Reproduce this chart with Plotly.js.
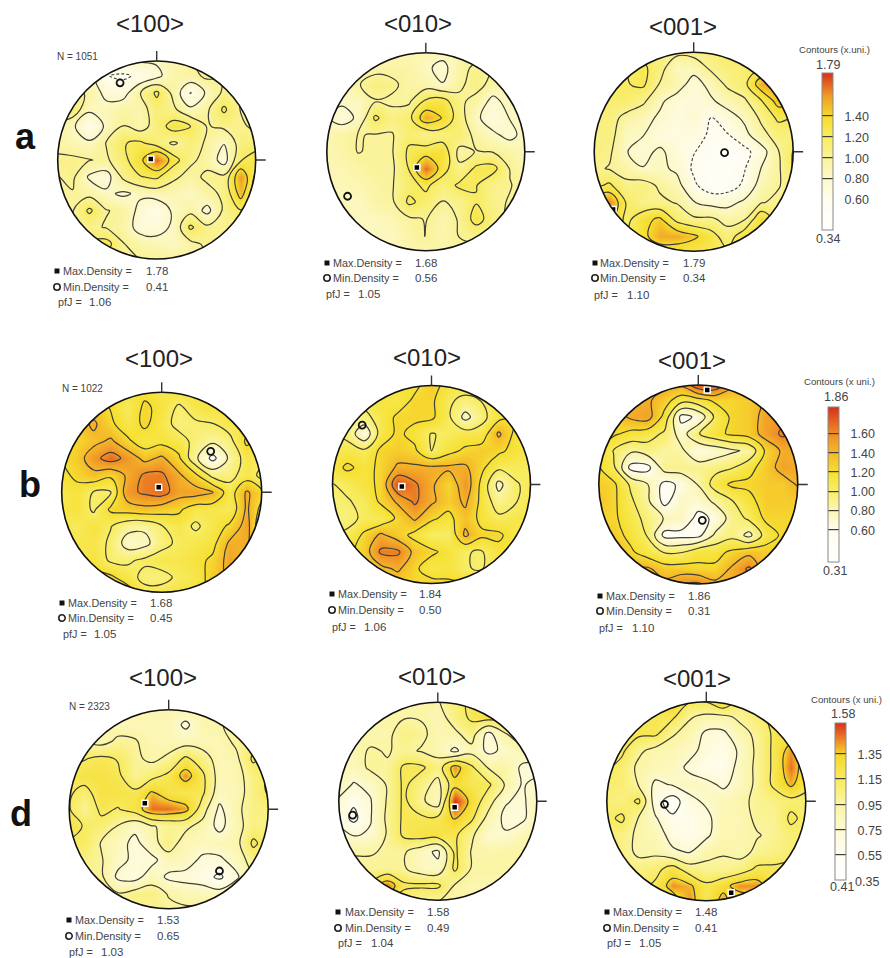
<!DOCTYPE html>
<html><head><meta charset="utf-8">
<script src="https://cdn.plot.ly/plotly-3.0.1.min.js"></script>
<style>html,body{margin:0;padding:0;background:#fff}</style></head>
<body><div id="chart" style="width:890px;height:958px"></div>
<script>
const a100=[
[.85,.85,.85,.85,.85,.85,.85,.9,1,1.1,1,1,1],
[.9,.9,.9,.62,.58,.65,.75,.95,.95,1.05,1,1,1],
[1,1.15,.95,.75,.72,1,1.25,.95,.6,.85,1.05,1,.95],
[1.05,1.15,.85,.88,.95,.92,1.12,1.05,.85,.98,1.25,1,.95],
[1,.85,.62,.85,1.02,.92,1.1,1.3,1.22,1,1.05,1.05,.95],
[.95,.9,.85,1.02,1.2,1.25,1.12,.98,1.12,.98,.82,1.1,1.15],
[1.05,1.05,1.02,.98,1.15,1.35,1.7,1.3,1.05,.95,.72,1.2,1.3],
[1,1.05,.78,.72,1.05,1.2,1.25,1.05,.95,1.05,1.05,1.6,1.1],
[.95,1,.95,.85,.78,.85,.9,.9,.85,.95,1.05,1.5,1],
[1,1,1.25,1.02,.98,.75,.65,.85,.95,.75,1.05,1.2,1],
[1,1,1.05,1,.95,.72,.72,.85,1.25,1.05,1.02,1,1],
[1.1,1.1,1.25,1.3,1.02,.95,.9,.85,.95,1.05,1,1,1],
[1.05,1.05,1.05,1.05,1.05,1.02,1,1,1,1,1,1,1]];
const a010=[
[.9,.9,.9,.9,.9,.9,.9,.9,.9,.9,.9,.9,.9],
[.9,.9,.9,.95,.95,.95,.85,.75,.95,1.05,1,.9,.9],
[.9,.85,1,1.1,1.05,.95,.92,.82,.98,1.08,.95,.9,.9],
[.85,.85,.85,1,.98,.98,1.25,1.3,1.05,.95,.75,.9,.9],
[.85,.72,.85,1.25,1.08,1.15,1.55,1.4,1.1,.85,.7,.82,.9],
[.9,.95,1.02,1,1,1.15,1.05,1.1,1.15,.95,.85,.75,.9],
[.88,.95,1.02,.98,1,1.25,1.3,1.35,.95,1.02,1,.95,.85],
[.88,.9,.95,1,.98,1.22,1.7,1.3,1.05,1.25,1.28,1,.9],
[.88,.88,.9,.95,1,1.15,1.25,1.1,1.25,1.22,1.05,1.02,.95],
[.9,.88,.85,.95,.98,1.25,1.15,1,1.05,1.2,1.05,1,.95],
[.9,.9,.85,.85,.9,.98,1.02,.92,1.03,1.3,1.1,.95,.95],
[.9,.9,.85,.85,.85,.95,1.02,.92,1.02,1.05,1.02,.95,.95],
[.9,.9,.9,.9,.9,.9,.9,.95,.95,.95,.95,.95,.95]];
const a001=[
[1.1,1.1,1.1,1.1,1.1,1.1,1.1,1.1,1.25,1.1,1.1,1.1,1.1],
[1.2,1.2,1.2,1.25,1.1,.85,.9,1.05,1.1,1.15,1.2,1.2,1.2],
[1.2,1.2,1.2,1.25,1,.92,.72,.88,1.05,1.15,1.55,1.6,1.4],
[1.15,1.15,1.15,1.05,.85,.72,.72,.78,.9,.98,1.2,1.5,1.4],
[1.1,1.1,.95,.88,.78,.7,.78,.6,.72,.85,1.05,1.25,1.2],
[1.05,1.1,.85,.82,.7,.68,.7,.58,.6,.75,.95,1.1,1.1],
[1.1,1.05,.82,.75,.85,.72,.62,.55,.4,.55,.72,1,1.25],
[1.05,1,.95,.82,.85,.78,.58,.5,.5,.6,.82,.98,1.25],
[1.15,1.25,1.05,1.1,.98,.88,.65,.5,.52,.65,.9,1,1.1],
[1.5,1.65,1.2,1.05,1.05,1,.82,.75,.75,.85,1,1.05,1.1],
[1.8,1.5,1.15,1.35,1.45,1.15,1.05,1.05,.95,1,1.4,1.1,1.1],
[1.3,1.3,1.2,1.35,1.55,1.55,1.45,1.3,1.1,1.35,1.3,1.1,1.1],
[1.25,1.25,1.25,1.25,1.25,1.25,1.25,1.25,1.25,1.25,1.25,1.25,1.25]];
const b100=[
[1.15,1.15,1.15,1.15,1.15,1.15,1.1,1.15,1.15,1.15,1.15,1.15,1.15],
[1.3,1.3,1.3,1.2,1.05,1.25,1.15,.98,1.1,1.15,1.15,1.1,1.1],
[1.3,1.3,1.45,1.25,1.1,1.25,1.1,.95,.98,1,1.1,1.1,1.1],
[1.2,1.25,1.35,1.45,1.25,1.1,1.15,1.1,.95,.85,.95,1.25,1.1],
[1.2,1.3,1.55,1.7,1.55,1.35,1.45,1.25,.85,.55,.85,1.1,1.05],
[1.15,1.25,1.35,1.25,1.45,1.65,1.65,1.45,1.25,.95,.95,1.1,.95],
[1.1,1.15,1,1,1.55,1.65,1.7,1.5,1.5,1.42,1.1,1.45,1.2],
[1.1,1.15,.98,1.25,1.3,1.35,1.3,1.25,1.1,1.1,1.05,1.45,1.1],
[1.1,1.05,1.15,1.02,.88,.85,1,1.1,.98,1.1,1.25,1.5,.95],
[1.1,1.1,1.1,.98,.72,.75,.95,1.05,1.1,1.15,1.45,1.45,1.1],
[1.1,1.1,1.15,.98,.98,1.05,1.1,1.1,1.15,1.25,1.5,1.3,1.25],
[1.25,1.25,1.25,1.25,1.1,.95,.95,1.05,1.1,1.3,1.45,1.25,1.25],
[1.25,1.25,1.25,1.25,1.35,1.1,1.1,1.15,1.15,1.25,1.25,1.25,1.25]];
const b010=[
[1.15,1.15,1.15,1.15,1.15,1.15,1.3,1.15,1.15,1.15,1.15,1.15,1.15],
[1.15,1.15,1.1,1.15,1.1,1.25,1.25,1.05,.95,1.02,1.15,1.25,1.25],
[1.1,1,.95,1.1,1.25,1.25,1.25,1.05,.75,.95,1.15,1.25,1.25],
[1.05,.95,.65,1.1,1.25,1.15,1,1.05,1.1,1.1,1.45,1.15,1.1],
[1.05,1.1,1.05,1.25,1.3,1.25,1,1.15,1.25,1.3,1.25,1.15,1.05],
[1.1,1.25,1.15,1.25,1.45,1.45,1.45,1.45,1.45,1.25,1.05,1.05,1.05],
[1,1.05,1.15,1.25,1.8,1.65,1.45,1.25,1.55,1.15,.75,1,1.05],
[.95,1,1.05,1.25,1.45,1.65,1.45,1.3,1.45,1.15,.9,1,1.1],
[.95,.95,1.05,1.05,1.25,1.45,1.25,1.15,1.35,1.15,1.05,1.1,1.1],
[1,1.05,1.25,1.45,1.3,1.15,1.02,1.02,1.45,1.25,1.25,1.1,1.1],
[1.1,1.15,1.3,1.65,1.65,1.35,1.25,1.15,1.02,1,1.15,1.15,1.1],
[1.15,1.15,1.25,1.35,1.45,1.25,1.1,1.15,1.02,1,1.15,1.15,1.15],
[1.25,1.25,1.25,1.25,1.25,1.25,1.3,1.25,1.25,1.25,1.25,1.25,1.25]];
const b001=[
[1.65,1.65,1.65,1.65,1.5,1.5,1.85,1.85,1.5,1.45,1.45,1.45,1.45],
[1.45,1.45,1.45,1.45,1.3,1.1,1.15,1.25,1.25,1.3,1.45,1.45,1.45],
[1.3,1.3,1.45,1.5,1.15,.55,.65,1.05,1.25,1.3,1.5,1.55,1.45],
[1.25,1.25,1.15,1.1,.98,.72,1,1.15,1.25,1.3,1.5,1.65,1.45],
[1.25,1,.85,.92,.85,.85,.65,.7,.78,.85,1.25,1.45,1.45],
[1.25,1.05,.55,.55,.9,.9,.9,.95,1,1.15,1.3,1.5,1.45],
[1.3,1.25,.98,.82,.55,.65,.82,1.1,1.25,1.25,1.3,1.3,1.45],
[1.35,1.25,1.05,.85,.55,.75,.7,.85,1,1.15,1.3,1.3,1.3],
[1.25,1.25,1.1,.95,.8,.75,.55,.65,.9,1.05,1.25,1.25,1.25],
[1.3,1.3,1.15,1,.55,.55,.55,.85,.95,.75,1.1,1.25,1.25],
[1.45,1.45,1.25,1.1,1,1,1.15,1.15,1.25,1.35,1.3,1.25,1.25],
[1.45,1.45,1.45,1.45,1.3,1.3,1.25,1.25,1.45,1.65,1.3,1.3,1.3],
[1.5,1.5,1.5,1.5,1.5,1.65,1.7,1.5,1.45,1.45,1.45,1.45,1.45]];
const d100=[
[.92,.92,.92,.92,.92,.92,.92,.92,.92,.92,.92,.92,.92],
[.9,.9,.9,.88,.88,.88,.88,.72,.9,.95,1,1,1],
[.95,.95,.9,1,.98,.88,.88,.88,.88,.88,1,1.05,1.05],
[1.1,1.15,1.2,1.15,1,.92,1,1.2,1.05,.88,.92,1.2,1.05],
[1.2,1.25,1.25,1.2,1,1.1,1.2,1.45,1.2,.88,.9,1.05,1.2],
[1.2,1.1,1.25,1.25,1.2,1.38,1.25,1.2,1.2,.85,.88,1.05,1.2],
[1.2,1,1.2,1.15,1.25,1.5,1.5,1.42,1.05,.72,.92,1.05,1.05],
[1.25,1.15,1.1,.95,.82,.95,1,1,.9,.7,.9,1.05,1.05],
[1.15,1.15,.95,.85,.7,.9,1.05,.88,.85,.88,.9,1.2,1.05],
[1.05,1.05,.98,.82,.72,.7,.88,.85,.72,.72,.85,1.05,1.05],
[1,1,1,.72,.68,.88,.72,.7,.65,.52,.72,1,1],
[1,1,1.05,.98,1.05,1.05,.95,.88,.88,.85,.95,1,1],
[1,1,1,1,1,1,1,1,1,1,1,1,1]];
const d010=[
[.95,.95,.95,.95,.95,.95,.95,1.1,1.2,1.2,.95,.95,.95],
[.95,.95,.95,.95,.95,.95,.88,1.05,1.2,1.25,1.2,1,.95],
[.95,.95,.9,.92,1.05,1,.9,.92,1.05,.7,.95,1.05,.95],
[.9,.9,.98,.95,1,.95,.9,.72,.9,.72,.8,.9,.85],
[.88,.85,1,.98,1.2,1.2,1.05,1.45,1.2,.95,.95,.72,.72],
[.85,.75,.8,.98,1.2,1.05,.9,1.3,1.2,1.2,.95,.75,.8],
[.75,.6,.75,.98,1.2,1,.85,1.6,1.3,1.05,.78,.72,.9],
[.72,.5,.75,1,1.2,1.2,1.2,1.38,1.2,.9,.72,.72,.9],
[.85,.75,.78,.98,1.2,1.25,1.25,1.2,1,.78,.78,.88,.95],
[.95,.95,.95,.98,.98,.85,.72,1.2,.95,.92,.95,.95,.95],
[1,1,1,1,.98,.85,.82,1.2,.95,.95,.95,.95,.95],
[1,1,1.2,1.5,1.2,1.2,1.2,.95,.9,.9,.9,.9,.9],
[1.1,1.1,1.2,1.2,1.05,.95,.95,.95,.95,.95,.95,.95,.95]];
const d001=[
[1.2,1.2,1.2,1.2,1.4,1.2,1.2,1.4,1.1,1.1,1.1,1.1,1.1],
[1.2,1.2,1.2,1.2,1.2,.98,.92,.92,1,1.1,1.2,1.2,1.2],
[1.2,1.2,1.2,1.2,.98,.9,.72,.72,.9,1,1.2,1.2,1.2],
[1.2,1.2,1,.9,.88,.82,.7,.62,.8,1,1.2,1.45,1.2],
[1.2,1.1,.92,.88,.85,.72,.62,.6,.85,1,1.2,1.5,1.2],
[1.1,1.1,.95,.72,.78,.85,.82,.72,.85,1,1.2,1.4,1.2],
[1.1,1.05,1.2,.65,.45,.7,.8,.88,.92,1,1.05,1.1,1.1],
[1.1,1.2,.95,.78,.6,.62,.7,.9,.88,1,1,1.2,1.1],
[1.1,1.05,.92,.88,.68,.62,.72,.9,.9,.95,1,1.1,1.1],
[1.1,1.05,.92,.92,.8,.75,.92,.95,.9,1,1.05,1.1,1.1],
[1.2,1.1,1.05,1.1,1.25,1.05,1,1,1.05,1.2,1.2,1.2,1.1],
[1.2,1.2,1.1,1.2,1.45,1.4,1.2,1.3,1.45,1.45,1.2,1.1,1.1],
[1.2,1.2,1.2,1.2,1.2,1.45,1.2,1.45,1.2,1.2,1.2,1.1,1.1]];

const grids=[a100,a010,a001,b100,b010,b001,d100,d010,d001];
const poleNames=["<100>","<010>","<001>"];
const centerX=[156.7,425.8,693.7,161.7,431.5,698.3,168.7,437.8,706.3];
const centerY=[160,151.7,151.7,492.3,484.5,484.5,809.3,801.3,801.3];
const radius=[99,99,99.5,100,99,99.5,99.5,99,99.5];
const titleX=[150,418,683,159,427,692,163,432,697];
const titleY=[23,23,26,358,357,360,677,676,678];
const maxX=[-.06,-.09,-.81,-.03,-.30,.09,-.24,.17,.25];
const maxY=[.01,-.16,-.58,.05,-.02,.95,.06,-.06,-.92];
const minX=[-.37,-.79,.31,.49,-.70,.04,.51,-.86,-.42];
const minY=[.78,-.45,-.01,.41,.60,-.36,-.62,-.14,-.03];
const maxText=["1.78","1.68","1.79","1.68","1.84","1.86","1.53","1.58","1.48"];
const minText=["0.41","0.56","0.34","0.45","0.50","0.31","0.65","0.49","0.41"];
const pfjText=["1.06","1.05","1.10","1.05","1.06","1.10","1.03","1.04","1.05"];
const statMarkX=[57,327,595,62,332,600,69,338,607];
const statTextX=[63,333,600,68,338,606,75,345,613];
const statValX=[146,415,683,150,419,688,157,427,695];
const statMaxY=[271,263,263,603,594,596,920,912,912];
const statMinY=[287,278,278,618,610,611,936,928,928];
const statPfjY=[302,294,295,634,627,628,952,943,943];
const pfjLabX=[58,326,594,63,332,599,69,338,607];
const pfjValX=[89,358,627,94,364,632,101,371,639];
const rowLetters=["a","b","d"];
const rowLetterX=[25,30,21];
const rowLetterY=[137,485,813];
const nLabels=["N = 1051","N = 1022","N = 2323"];
const nX=[57,62,69];
const nY=[57,388,706];
const zMin=[.31,.27,.36];
const zMax=[1.82,1.88,1.6];
const levelStart=[.8,.6,.55];
const levelEnd=[1.4,1.6,1.35];
const levelSize=[.2,.2,.2];
const barTickVals=[[.6,.8,1,1.2,1.4],[.6,.8,1,1.2,1.4,1.6],[.55,.75,.95,1.15,1.35]];
const barX=[822,828,835];
const barTop=[73,407,723];
const barBottom=[230,562,880];
const barTitles=["Contours (x.uni.)","Contours (x uni.)","Contours (x uni.)"];
const barTitleX=[834,839,846];
const barTitleY=[49,382,699];
const barTopText=["1.79","1.86","1.58"];
const barTopX=[828,836,843];
const barTopY=[65,397,714];
const barBotText=["0.34","0.31","0.41"];
const barBotX=[828,835,842];
const barBotY=[239,571,887];
const stopValues=[[.31,.6,.8,1,1.2,1.4,1.6,1.82],[.27,.6,.8,1,1.2,1.4,1.6,1.88],[.36,.55,.75,.95,1.15,1.35,1.45,1.6]];
const stopColors=[
["#ffffff","#fffdf0","#fdf9cc","#faf39a","#f8ec62","#f6dc2a","#f09a28","#d8301c"],
["#ffffff","#fffdf0","#fcf6b4","#f8ee6a","#f6e030","#f5b82a","#ef8e26","#d8301c"],
["#ffffff","#fffef4","#fdfad4","#fbf5a6","#f8ec62","#f6d82a","#f09028","#d8301c"]];

const W=890,H=958,PAD=1.2,LEVEL_EPS=.012;
const px=x=>x/W, py=y=>1-y/H;
const traces=[],shapes=[],annotations=[];
const layout={width:W,height:H,margin:{l:0,r:0,t:0,b:0},paper_bgcolor:"#fff",plot_bgcolor:"rgba(0,0,0,0)",showlegend:false,shapes,annotations,font:{family:"Liberation Sans, Arial, sans-serif"}};
const hidden={visible:false,fixedrange:true};
function txt(x,y,text,size,anchor,color,bold){
  annotations.push({xref:"paper",yref:"paper",x:px(x),y:py(y),text:bold?"<b>"+text+"</b>":text,showarrow:false,xanchor:anchor,yanchor:"middle",
    font:{size,color,family:"Liberation Sans, Arial, sans-serif"},borderpad:0,borderwidth:0});
}
const esc=s=>s.replace(/</g,"&lt;").replace(/>/g,"&gt;");
let ring="M-1.2,-1.2L1.2,-1.2L1.2,1.2L-1.2,1.2Z M";
for(let k=0;k<240;k++){const t=k/240*2*Math.PI;ring+=(k?"L":"")+Math.cos(t).toFixed(4)+","+Math.sin(t).toFixed(4);}
ring+="Z";

grids.forEach((grid,i)=>{
  const row=Math.floor(i/3),n=i+1,xa=n===1?"x":"x"+n,ya=n===1?"y":"y"+n;
  const r=radius[i]*PAD;
  layout[n===1?"xaxis":"xaxis"+n]=Object.assign({},hidden,{domain:[px(centerX[i]-r),px(centerX[i]+r)],range:[-PAD,PAD],anchor:ya});
  layout[n===1?"yaxis":"yaxis"+n]=Object.assign({},hidden,{domain:[py(centerY[i]+r),py(centerY[i]-r)],range:[-PAD,PAD],anchor:xa});
  const z=grid.slice().reverse();
  const span=zMax[row]-zMin[row];
  const scale=stopValues[row].map((v,k)=>[(v-zMin[row])/span,stopColors[row][k]]);
  const main={type:"contour",z,x0:-1.02,dx:.17,y0:-1.02,dy:.17,xaxis:xa,yaxis:ya,zmin:zMin[row],zmax:zMax[row],colorscale:scale,autocontour:false,
    contours:{coloring:"heatmap",start:levelStart[row]+LEVEL_EPS,end:levelEnd[row]+LEVEL_EPS,size:levelSize[row],showlines:true},
    line:{color:"#3f3f35",width:1.2,smoothing:1.1},hoverinfo:"skip",showscale:i%3===2};
  if(i%3===2){
    main.colorbar={x:px(barX[row]),xanchor:"left",y:py(barBottom[row]),yanchor:"bottom",len:barBottom[row]-barTop[row],lenmode:"pixels",thickness:11,thicknessmode:"pixels",xpad:0,ypad:0,
      outlinecolor:"#888",outlinewidth:1,borderwidth:0,tickmode:"array",tickvals:barTickVals[row],ticktext:barTickVals[row].map(v=>v.toFixed(2)),ticks:"outside",ticklen:9,tickcolor:"rgba(0,0,0,0)",tickfont:{size:12.5,color:"#444"}};
  }
  traces.push(main);
  if(row===0){
    traces.push({type:"contour",z,x0:-1.02,dx:.17,y0:-1.02,dy:.17,xaxis:xa,yaxis:ya,autocontour:false,showscale:false,hoverinfo:"skip",
      contours:{coloring:"none",start:.6+LEVEL_EPS,end:.6+LEVEL_EPS,size:.2},line:{color:"#3f3f35",width:1.1,dash:"3px,2px",smoothing:1.1}});
  }
  traces.push({type:"scatter",mode:"markers",x:[maxX[i]],y:[maxY[i]],xaxis:xa,yaxis:ya,hoverinfo:"skip",marker:{symbol:"square",size:6,color:"#000",line:{color:"#fff",width:1.5}}});
  traces.push({type:"scatter",mode:"markers",x:[minX[i]],y:[minY[i]],xaxis:xa,yaxis:ya,hoverinfo:"skip",marker:{symbol:"circle-open",size:7,color:"#111",line:{color:"#111",width:1.8}}});
  shapes.push({type:"path",path:ring,xref:xa,yref:ya,fillcolor:"#fff",fillrule:"evenodd",line:{width:0},layer:"above"});
  shapes.push({type:"circle",xref:xa,yref:ya,x0:-1,x1:1,y0:-1,y1:1,line:{color:"#111",width:1.6},layer:"above"});
  shapes.push({type:"line",xref:xa,yref:ya,x0:0,x1:0,y0:1,y1:1.1,line:{color:"#333",width:1.4},layer:"above"});
  shapes.push({type:"line",xref:xa,yref:ya,x0:1,x1:1.1,y0:0,y1:0,line:{color:"#333",width:1.4},layer:"above"});
  txt(titleX[i],titleY[i],esc(poleNames[i%3]),24,"center","#222");
  txt(statTextX[i],statMaxY[i],"Max.Density =",10.8,"left","#444");
  txt(statValX[i],statMaxY[i],maxText[i],11.5,"left","#444");
  txt(statTextX[i],statMinY[i],"Min.Density =",10.8,"left","#444");
  txt(statValX[i],statMinY[i],minText[i],11.5,"left","#444");
  txt(pfjLabX[i],statPfjY[i],"pfJ =",10.8,"left","#444");
  txt(pfjValX[i],statPfjY[i],pfjText[i],11.5,"left","#444");
});
layout.xaxis10=Object.assign({},hidden,{domain:[0,1],range:[0,W],anchor:"y10"});
layout.yaxis10=Object.assign({},hidden,{domain:[0,1],range:[H,0],anchor:"x10"});
traces.push({type:"scatter",mode:"none",x:[0,W],y:[0,H],xaxis:"x10",yaxis:"y10",hoverinfo:"skip"});
statMarkX.forEach((x,i)=>{
  shapes.push({type:"rect",xref:"x10",yref:"y10",x0:x-2.5,x1:x+2.5,y0:statMaxY[i]-2.5,y1:statMaxY[i]+2.5,fillcolor:"#111",line:{width:0},layer:"above"});
  shapes.push({type:"circle",xref:"x10",yref:"y10",x0:x-3.2,x1:x+3.2,y0:statMinY[i]-3.2,y1:statMinY[i]+3.2,fillcolor:"rgba(0,0,0,0)",line:{color:"#222",width:1.6},layer:"above"});
});
shapes.push({type:"line",xref:"x10",yref:"y10",x0:barX[0],x1:barX[0]+11,y0:200,y1:200,line:{color:"#3f3f35",width:1.2,dash:"3px,2px"},layer:"above"});

rowLetters.forEach((l,j)=>{
  txt(rowLetterX[j],rowLetterY[j],l,36,"center","#111",true);
  txt(nX[j],nY[j],nLabels[j],10,"left","#444");
  txt(barTitleX[j],barTitleY[j],barTitles[j],9.6,"center","#444");
  txt(barTopX[j],barTopY[j],barTopText[j],12.5,"center","#444");
  txt(barBotX[j],barBotY[j],barBotText[j],12.5,"center","#444");
});
txt(867,882,"0.35",12.5,"center","#444");
Plotly.newPlot("chart",traces,layout,{displayModeBar:false,staticPlot:true});
</script></body></html>
